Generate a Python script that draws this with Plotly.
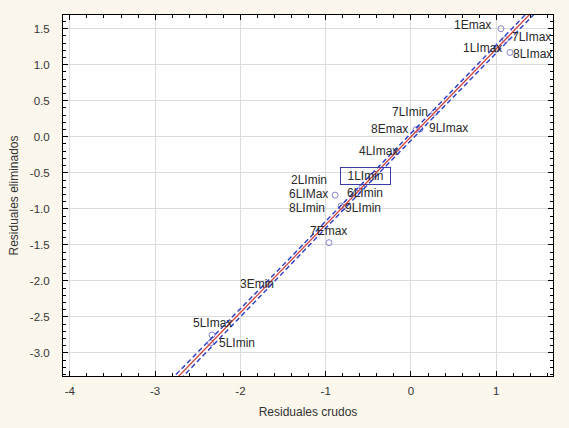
import numpy as np
import plotly.graph_objects as go

# Raw residuals vs. deleted residuals per observation
names = ["1Emax", "7LImax", "1LImax", "8LImax", "7LImin", "8Emax", "9LImax",
         "4LImax", "1LImin", "2LImin", "6LIMax", "6LImin", "8LImin", "9LImin",
         "7Emax", "3Emin", "5LImax", "5LImin"]
raw_resid = [1.055, 1.107, 0.996, 1.16, 0.277, 0.06, 0.105,
             -0.172, -0.463, -0.574, -0.89, -0.64, -0.82, -0.80,
             -0.961, -1.675, -2.333, -2.35]
deleted_resid = [1.50, 1.35, 1.215, 1.17, 0.338, 0.10, 0.105,
                 -0.21, -0.565, -0.70, -0.81, -0.78, -0.96, -0.98,
                 -1.47, -2.04, -2.75, -2.86]

# Fitted regression line and its confidence band
fit_slope = 1.22
fit_intercept = 0.0
band_halfwidth = 0.045
band_center = -0.6
band_spread = 2.4

x_ticks = [-4, -3, -2, -1, 0, 1]
x_tick_text = ["-4", "-3", "-2", "-1", "0", "1"]
y_ticks = [-3.0, -2.5, -2.0, -1.5, -1.0, -0.5, 0.0, 0.5, 1.0, 1.5]
y_tick_text = ["-3.0", "-2.5", "-2.0", "-1.5", "-1.0", "-0.5", "0.0", "0.5", "1.0", "1.5"]

# label placement: (xanchor, xshift px, yshift px, boxed)
label_style = {
    "1Emax": ("right", -8, 4, False),
    "7LImax": ("left", 5, 3, False),
    "1LImax": ("right", 8, 1, False),
    "8LImax": ("left", 1, -2, False),
    "7LImin": ("right", -5, 0, False),
    "8Emax": ("right", -6, 1, False),
    "9LImax": ("left", 7, 1, False),
    "4LImax": ("right", 4, 1, False),
    "1LImin": ("center", -6, 1, True),
    "2LImin": ("right", -33, 7, False),
    "6LIMax": ("right", -5, 1, False),
    "6LImin": ("left", -11, 0, False),
    "8LImin": ("right", -14, -2, False),
    "9LImin": ("left", 0, -1, False),
    "7Emax": ("center", -1, 12, False),
    "3Emin": ("center", -11, 0, False),
    "5LImax": ("center", 0, 12, False),
    "5LImin": ("left", 6, 0, False),
}

x_range = [-4.08, 1.665]
y_range = [-3.32, 1.69]

xs = np.linspace(-4.2, 1.8, 200)
yfit = fit_slope * xs + fit_intercept
hw = band_halfwidth * np.sqrt(1 + ((xs - band_center) / band_spread) ** 2)

font_family = "Liberation Sans, Arial, sans-serif"

fig = go.Figure()

fig.add_trace(go.Scatter(
    x=raw_resid, y=deleted_resid, mode="markers",
    marker=dict(symbol="circle-open", size=6, color="#8585cc", line=dict(width=1)),
    hoverinfo="text", text=names, showlegend=False,
))
for band in (yfit + hw, yfit - hw):
    fig.add_trace(go.Scatter(
        x=xs, y=band, mode="lines",
        line=dict(color="#2c3cc8", width=1.4, dash="5px,3px"),
        hoverinfo="skip", showlegend=False,
    ))
fig.add_trace(go.Scatter(
    x=xs, y=yfit, mode="lines",
    line=dict(color="#d24545", width=1.3),
    hoverinfo="skip", showlegend=False,
))

for name, xv, yv in zip(names, raw_resid, deleted_resid):
    anchor, dx, dy, boxed = label_style[name]
    ann = dict(
        x=xv, y=yv, text=name, showarrow=False,
        xanchor=anchor, yanchor="middle", xshift=dx, yshift=dy,
        font=dict(family=font_family, size=12, color="#2a2a2a"),
    )
    if boxed:
        ann.update(bordercolor="#3a3aa8", borderwidth=1, borderpad=1, width=47, height=14)
    fig.add_annotation(**ann)

axis_common = dict(
    showline=True, linecolor="black", linewidth=1, mirror="ticks",
    ticks="inside", ticklen=5, tickcolor="black", tickwidth=1,
    showgrid=True, gridcolor="#dcdcdc", gridwidth=1, zeroline=False,
    tickfont=dict(family=font_family, size=11.5, color="#333333"),
)

fig.update_xaxes(
    range=x_range, tickmode="array", tickvals=x_ticks, ticktext=x_tick_text,
    minor=dict(ticks="inside", ticklen=3, dtick=0.2, tick0=0, tickcolor="black", showgrid=False),
    title=dict(text="Residuales crudos", font=dict(family=font_family, size=12, color="#333333"), standoff=11),
    ticklabelstandoff=4,
    **axis_common,
)
fig.update_yaxes(
    range=y_range, tickmode="array", tickvals=y_ticks, ticktext=y_tick_text,
    minor=dict(ticks="inside", ticklen=3, dtick=0.1, tick0=0, tickcolor="black", showgrid=False),
    title=dict(text="Residuales eliminados", font=dict(family=font_family, size=12, color="#333333"), standoff=8),
    ticklabelstandoff=10,
    **axis_common,
)

fig.update_layout(
    width=569, height=428,
    margin=dict(l=63, r=16, t=15, b=48),
    paper_bgcolor="#fbf7ec", plot_bgcolor="white",
    showlegend=False,
)

fig.write_html("out.html")
